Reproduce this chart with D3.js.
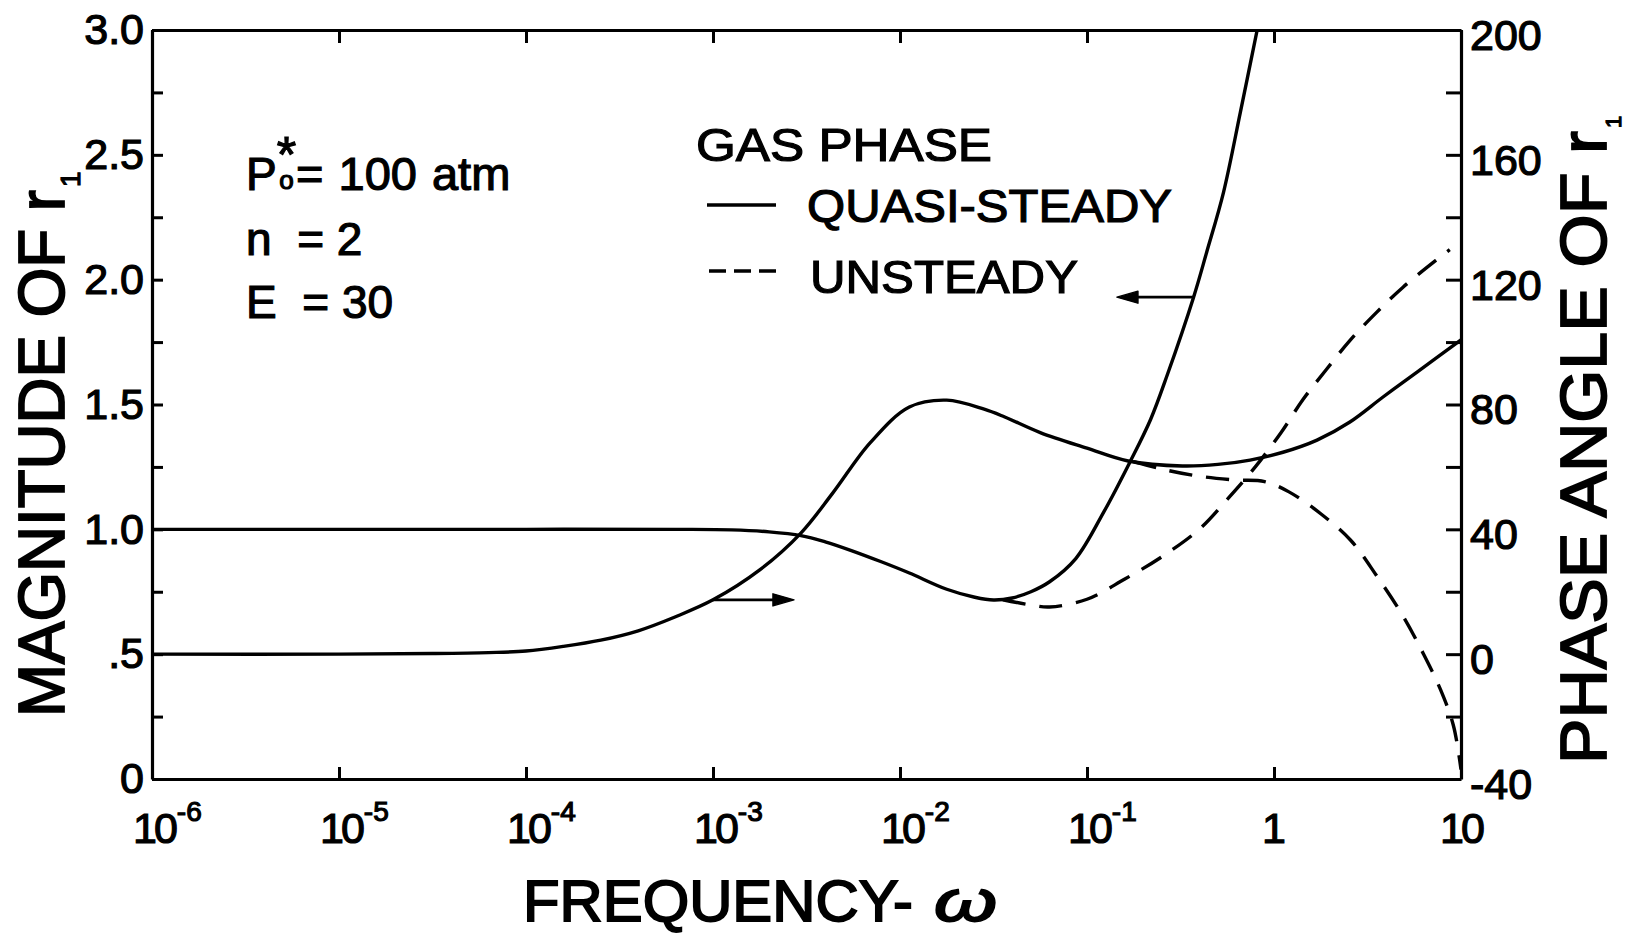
<!DOCTYPE html>
<html>
<head>
<meta charset="utf-8">
<script src="https://cdn.jsdelivr.net/npm/d3@7"></script>
<style>
  html, body { margin: 0; padding: 0; background: #fff; }
  svg { display: block; }
  text { font-family: "Liberation Sans", Arial, sans-serif; fill: #000; }
  .ink { stroke: #000; stroke-width: 1.2px; }
  .ink-heavy { stroke: #000; stroke-width: 1.8px; }
</style>
</head>
<body>
<svg id="chart" width="1630" height="935"></svg>
<script>
// ---- Data: response of r1 versus frequency (exponent of ω, value) ----
// Magnitude, quasi-steady gas phase
const magSteadyLogW  = [-6, -5, -4, -3.2, -2.9, -2.7, -2.53, -2.4, -2.26, -2.1, -1.95, -1.75, -1.6, -1.5, -1.4, -1.3, -1.2, -1.06, -0.91, -0.77, -0.66, -0.57, -0.43, -0.36, -0.27, -0.18, -0.09];
const magSteadyValue = [1.0, 1.0, 1.0, 1.0, 0.998, 0.99, 0.975, 0.95, 0.915, 0.87, 0.825, 0.76, 0.728, 0.717, 0.725, 0.75, 0.79, 0.883, 1.07, 1.27, 1.44, 1.62, 1.93, 2.11, 2.35, 2.67, 3.0];

// Magnitude, unsteady gas phase
const magUnsteadyLogW  = [-1.45, -1.3, -1.2, -1.0, -0.8, -0.6, -0.4, -0.25, -0.1, 0.04, 0.155, 0.28, 0.41, 0.55, 0.69, 0.87, 0.94];
const magUnsteadyValue = [0.718, 0.697, 0.689, 0.72, 0.80, 0.89, 1.0, 1.12, 1.25, 1.39, 1.52, 1.64, 1.76, 1.87, 1.97, 2.08, 2.12];

// Phase angle (degrees), quasi-steady gas phase
const phaseSteadyLogW  = [-6, -5, -4.5, -4.2, -4, -3.8, -3.6, -3.4, -3.2, -3.0, -2.75, -2.53, -2.36, -2.16, -1.95, -1.75, -1.55, -1.44, -1.25, -1.0, -0.78, -0.49, -0.3, -0.128, 0.048, 0.23, 0.406, 0.583, 0.765, 1.0];
const phaseSteadyValue = [0, 0, 0.2, 0.5, 1, 2.5, 4.5, 7.5, 12, 17.4, 27, 38.8, 51.6, 67.7, 79.2, 81.4, 78.5, 76, 71, 66, 61.9, 60.3, 60.8, 62.2, 64.7, 68.6, 74.4, 82.4, 90.4, 100.7];

// Phase angle (degrees), unsteady gas phase
const phaseUnsteadyLogW  = [-0.75, -0.6, -0.4, -0.2, -0.05, 0.08, 0.25, 0.41, 0.55, 0.69, 0.8, 0.89, 0.96, 1.0];
const phaseUnsteadyValue = [61.7, 59.3, 57, 55.8, 55.3, 52, 45, 36.5, 25, 12.2, 0, -11.3, -23, -37];

// Axis ticks and labels
const magTicks = [0, 0.5, 1, 1.5, 2, 2.5, 3];
const magTickLabels = ["0", ".5", "1.0", "1.5", "2.0", "2.5", "3.0"];
const phaseTicks = [-40, 0, 40, 80, 120, 160, 200];
const freqExponents = [-6, -5, -4, -3, -2, -1, 0, 1];

// Pointer arrows telling which axis each solid curve belongs to
const phaseArrow = { fromLogW: -3.0, toLogW: -2.567, value: 17.4 };
const magArrow = { fromLogW: -0.433, toLogW: -0.84, value: 1.93 };

// ---- Layout ----
const L = 152, R = 1461, T = 30, B = 779;
const svg = d3.select("#chart");
svg.append("rect").attr("width", 1630).attr("height", 935).attr("fill", "#fff");

const x = d3.scaleLog().domain([1e-6, 10]).range([L, R]);
const yMag = d3.scaleLinear().domain([0, 3]).range([B, T]);
const yPhase = d3.scaleLinear().domain([-40, 200]).range([B, T]);

const FONT = '"Liberation Sans", Arial, sans-serif';

function styleAxis(g, fontSize) {
  g.attr("font-family", FONT).attr("font-size", fontSize);
  g.select(".domain").attr("stroke", "#000").attr("stroke-width", 3.2);
  g.selectAll(".tick line").attr("stroke", "#000").attr("stroke-width", 3);
  g.selectAll(".tick text").attr("fill", "#000").attr("class", "ink");
}

// Left axis: magnitude
const gLeft = svg.append("g").attr("transform", `translate(${L},0)`)
  .call(d3.axisLeft(yMag)
    .tickValues(d3.range(0, 3.001, 0.25))
    .tickSizeInner(-11).tickSizeOuter(0).tickPadding(8)
    .tickFormat(d => {
      const i = magTicks.findIndex(t => Math.abs(t - d) < 1e-9);
      return i >= 0 ? magTickLabels[i] : "";
    }));
styleAxis(gLeft, 43);

// Right axis: phase angle
const gRight = svg.append("g").attr("transform", `translate(${R},0)`)
  .call(d3.axisRight(yPhase)
    .tickValues(d3.range(-40, 201, 20))
    .tickSizeInner(-15).tickSizeOuter(0).tickPadding(9)
    .tickFormat(d => phaseTicks.includes(d) ? String(d) : ""));
styleAxis(gRight, 43);
gRight.selectAll(".tick text").attr("dy", "0.45em");

// Bottom and top axes: frequency decades
const gBottom = svg.append("g").attr("transform", `translate(0,${B})`)
  .call(d3.axisBottom(x)
    .tickValues(freqExponents.map(e => Math.pow(10, e)))
    .tickSizeInner(-12).tickSizeOuter(0).tickFormat(() => ""));
styleAxis(gBottom, 43);

const gTop = svg.append("g").attr("transform", `translate(0,${T})`)
  .call(d3.axisTop(x)
    .tickValues(freqExponents.map(e => Math.pow(10, e)))
    .tickSizeInner(-13).tickSizeOuter(0).tickFormat(() => ""));
styleAxis(gTop, 43);

// Frequency tick labels as powers of ten (base plus raised exponent)
const freqLabels = svg.append("g");
freqExponents.forEach(e => {
  const px = x(Math.pow(10, e));
  if (e < 0) {
    const t = freqLabels.append("text")
      .attr("class", "ink")
      .attr("x", px - 19).attr("y", 843)
      .attr("font-size", 43);
    t.append("tspan").attr("letter-spacing", -3).text("10");
    t.append("tspan").attr("font-size", 28).attr("dx", 2).attr("dy", -22).text("-" + (-e));
  } else {
    freqLabels.append("text")
      .attr("class", "ink")
      .attr("x", px).attr("y", 843)
      .attr("text-anchor", "middle")
      .attr("font-size", 43)
      .attr("letter-spacing", e === 1 ? -3 : 0)
      .text(e === 0 ? "1" : "10");
  }
});

// ---- Curves ----
svg.append("clipPath").attr("id", "plot-clip")
  .append("rect").attr("x", L).attr("y", T).attr("width", R - L).attr("height", B - T);

const plot = svg.append("g").attr("clip-path", "url(#plot-clip)");

function pairs(logW, values) {
  return logW.map((l, i) => [Math.pow(10, l), values[i]]);
}
const smooth = d3.curveCatmullRom.alpha(0.5);
const magLine = d3.line().x(d => x(d[0])).y(d => yMag(d[1])).curve(smooth);
const phaseLine = d3.line().x(d => x(d[0])).y(d => yPhase(d[1])).curve(smooth);

const curves = [
  { d: magLine(pairs(magSteadyLogW, magSteadyValue)), dash: null },
  { d: phaseLine(pairs(phaseSteadyLogW, phaseSteadyValue)), dash: null },
  { d: magLine(pairs(magUnsteadyLogW, magUnsteadyValue)), dash: "23 14" },
  { d: phaseLine(pairs(phaseUnsteadyLogW, phaseUnsteadyValue)), dash: "23 14" }
];
plot.selectAll("path.curve").data(curves).join("path")
  .attr("class", "curve")
  .attr("d", c => c.d)
  .attr("fill", "none")
  .attr("stroke", "#000")
  .attr("stroke-width", 3.4)
  .attr("stroke-linecap", "butt")
  .attr("stroke-dasharray", c => c.dash);

// ---- Arrows ----
function drawArrow(x1, y1, x2, y2) {
  const headLen = 21, halfW = 6;
  const dx = x2 - x1, dy = y2 - y1, len = Math.hypot(dx, dy);
  const ux = dx / len, uy = dy / len;
  const bx = x2 - ux * headLen, by = y2 - uy * headLen;
  svg.append("line")
    .attr("x1", x1).attr("y1", y1).attr("x2", bx).attr("y2", by)
    .attr("stroke", "#000").attr("stroke-width", 2.6);
  svg.append("path")
    .attr("d", `M${x2},${y2} L${bx - uy * halfW},${by + ux * halfW} L${bx + uy * halfW},${by - ux * halfW} Z`)
    .attr("fill", "#000").attr("stroke", "#000").attr("stroke-width", 1.5)
    .attr("stroke-linejoin", "round");
}
drawArrow(x(Math.pow(10, phaseArrow.fromLogW)), yPhase(phaseArrow.value),
          x(Math.pow(10, phaseArrow.toLogW)), yPhase(phaseArrow.value));
drawArrow(x(Math.pow(10, magArrow.fromLogW)), yMag(magArrow.value),
          x(Math.pow(10, magArrow.toLogW)), yMag(magArrow.value));

// ---- Legend ----
const legend = svg.append("g");
legend.append("text").attr("class", "ink").attr("x", 696).attr("y", 161)
  .attr("font-size", 47).attr("textLength", 296).attr("lengthAdjust", "spacingAndGlyphs")
  .text("GAS PHASE");
legend.append("line").attr("x1", 707).attr("x2", 776).attr("y1", 205).attr("y2", 205)
  .attr("stroke", "#000").attr("stroke-width", 3.4);
legend.append("text").attr("class", "ink").attr("x", 807).attr("y", 222)
  .attr("font-size", 47).attr("textLength", 365).attr("lengthAdjust", "spacingAndGlyphs")
  .text("QUASI-STEADY");
legend.append("line").attr("x1", 709).attr("x2", 777).attr("y1", 271).attr("y2", 271)
  .attr("stroke", "#000").attr("stroke-width", 3.4).attr("stroke-dasharray", "17 8");
legend.append("text").attr("class", "ink").attr("x", 810).attr("y", 293)
  .attr("font-size", 47).attr("textLength", 268).attr("lengthAdjust", "spacingAndGlyphs")
  .text("UNSTEADY");

// ---- Parameter block ----
const params = svg.append("g").attr("font-size", 46);
const pLine = params.append("text").attr("class", "ink").attr("x", 246).attr("y", 190);
pLine.append("tspan").text("P");
pLine.append("tspan").attr("font-size", 50).attr("dy", -18).text("*");
pLine.append("tspan").attr("font-size", 26).attr("dx", -17).attr("dy", 17).text("o");
pLine.append("tspan").attr("x", 296).attr("dy", 1).attr("font-size", 47).attr("word-spacing", 2).text("= 100 atm");
params.append("text").attr("class", "ink").attr("x", 246).attr("y", 255)
  .attr("xml:space", "preserve").text("n  = 2");
params.append("text").attr("class", "ink").attr("x", 246).attr("y", 318)
  .attr("xml:space", "preserve").text("E  = 30");

// ---- Axis titles ----
function verticalTitle(px, py, label, length, subSize, subDrop) {
  const g = svg.append("g").attr("transform", `translate(${px},${py}) rotate(-90)`);
  g.append("text").attr("class", "ink-heavy")
    .attr("x", 0).attr("y", 0).attr("font-size", 64)
    .attr("textLength", length).attr("lengthAdjust", "spacingAndGlyphs")
    .text(label);
  g.append("text").attr("class", "ink")
    .attr("x", length + 3).attr("y", subDrop).attr("font-size", subSize)
    .text("1");
}
verticalTitle(64, 717, "MAGNITUDE OF r", 527, 28, 16);
verticalTitle(1606, 764, "PHASE ANGLE OF r", 633, 22, 15);

const xTitle = svg.append("g");
xTitle.append("text").attr("class", "ink-heavy").attr("x", 523).attr("y", 921)
  .attr("font-size", 58).attr("textLength", 390).attr("lengthAdjust", "spacingAndGlyphs")
  .text("FREQUENCY-");
xTitle.append("text").attr("class", "ink-heavy").attr("x", 934).attr("y", 921)
  .attr("font-size", 58).attr("font-style", "italic")
  .attr("textLength", 63).attr("lengthAdjust", "spacingAndGlyphs")
  .text("ω");
</script>
</body>
</html>
